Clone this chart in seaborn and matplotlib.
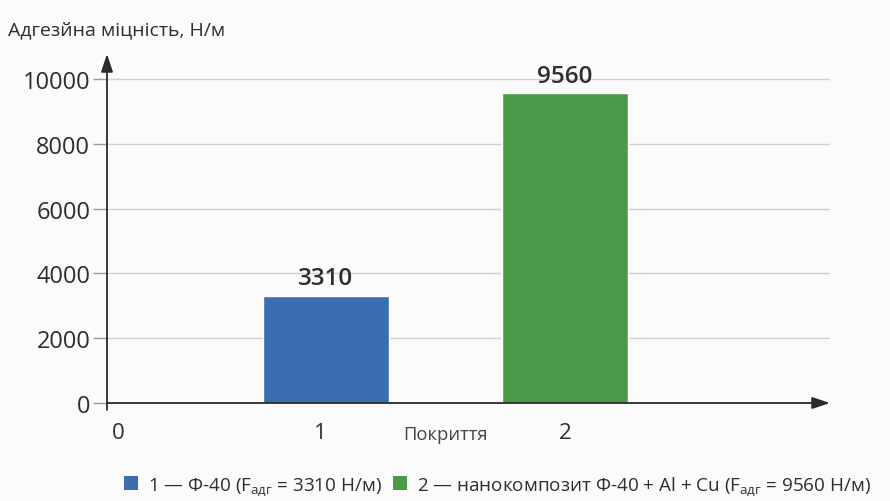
import matplotlib
matplotlib.use("Agg")
import matplotlib.pyplot as plt
import matplotlib.patches as mpatches
import seaborn as sns
import pandas as pd

# Coatings and their adhesion strength, N/m
coatings = ["1", "2"]
strength = [3310, 9560]
colors = ["#3b6db1", "#4c9a49"]
yticks = [0, 2000, 4000, 6000, 8000, 10000]
legend_labels = [
    "1 — Ф-40 (F$_{\\mathregular{адг}}$ = 3310 Н/м)",
    "2 — нанокомпозит Ф-40 + Al + Cu (F$_{\\mathregular{адг}}$ = 9560 Н/м)",
]

sns.set_theme(style="white")
plt.rcParams["font.family"] = ["Open Sans", "DejaVu Sans"]
plt.rcParams["mathtext.fontset"] = "custom"
plt.rcParams["mathtext.rm"] = "Open Sans"

bg = "#fbfbfb"
text_c = "#2e2e2e"

fig = plt.figure(figsize=(8.9, 5.02), dpi=100, facecolor=bg)
ax = fig.add_axes([107 / 890, 98 / 502, (830 - 107) / 890, (404 - 55) / 502])
ax.set_facecolor(bg)

df = pd.DataFrame({"coating": coatings, "strength": strength})
sns.barplot(data=df, x="coating", y="strength", hue="coating",
            palette=colors, order=coatings, width=0.53, saturation=1,
            legend=False, ax=ax)

ax.set_xlim(-0.916, 2.109)
ax.set_ylim(0, 10772)

# value labels over the bars
for cont in ax.containers:
    ax.bar_label(cont, padding=4, fontsize=17.5, fontweight="semibold", color=text_c)

# y ticks and horizontal grid
ax.set_yticks(yticks)
ax.set_yticklabels([str(v) for v in yticks], fontsize=17, color=text_c)
ax.tick_params(axis="y", length=10, width=1, color="#9a9a9a", pad=2, left=True)
for v in yticks[1:]:
    ax.axhline(v, color="#d2d2d2", lw=1, zorder=0)
ax.set_axisbelow(True)

# x tick labels
ax.set_xticks([])
ax.set_xlabel("")
ax.set_ylabel("")
for lab, xpos in zip(coatings, [-0.025, 1.0]):
    ax.text(xpos, -0.085, lab, transform=ax.get_xaxis_transform(),
            ha="center", va="center", fontsize=16, color=text_c)
ax.text(-0.87, -0.085, "0", transform=ax.get_xaxis_transform(),
        ha="center", va="center", fontsize=16, color=text_c)
ax.text(0.5, -0.09, "Покриття", transform=ax.get_xaxis_transform(),
        ha="center", va="center", fontsize=13.2, color="#444444")

for s in ax.spines.values():
    s.set_visible(False)

# axis arrows
arrow = dict(arrowstyle="-|>,head_length=0.9,head_width=0.3", color="#2a2a2a",
             lw=1.3, shrinkA=0, shrinkB=0)
ax.annotate("", xy=(1.0, 0), xytext=(0, 0), xycoords="axes fraction",
            arrowprops=arrow, annotation_clip=False)
ax.annotate("", xy=(0, 1.0), xytext=(0, -0.02), xycoords="axes fraction",
            arrowprops=arrow, annotation_clip=False)

fig.text(8 / 890, 1 - 30 / 502, "Адгезйна міцність, Н/м", fontsize=14,
         color=text_c, ha="left", va="center")

handles = [mpatches.Patch(facecolor=c, edgecolor="none") for c in colors]
fig.legend(handles, legend_labels, loc="center left",
           bbox_to_anchor=(124 / 890, 1 - 487 / 502), ncol=2, frameon=False,
           fontsize=13.6, handlelength=0.75, handleheight=0.75,
           handletextpad=0.5, columnspacing=0.6, labelcolor=text_c,
           borderaxespad=0, borderpad=0)

fig.savefig("out.png", dpi=100, facecolor=bg)
